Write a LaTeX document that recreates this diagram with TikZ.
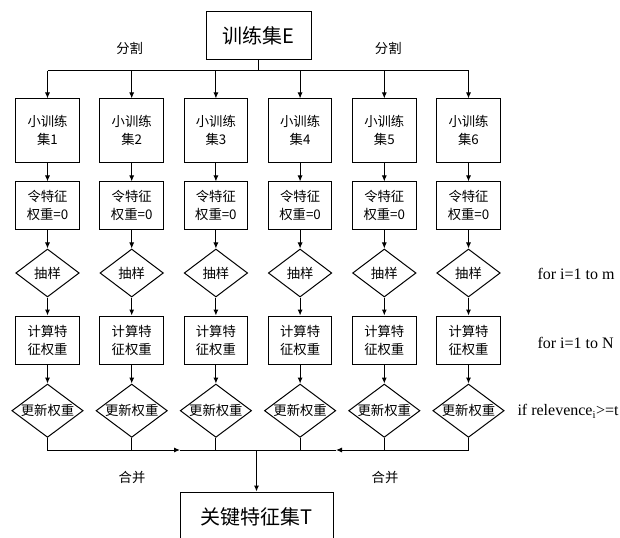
\documentclass[tikz,border=0pt]{standalone}
\usepackage{fontspec}
\setmainfont{Liberation Serif}
\newfontfamily\cjk{Noto Sans CJK SC}
\usetikzlibrary{shapes.geometric,arrows.meta}
\begin{document}
\begin{tikzpicture}[x=0.75pt,y=-0.75pt,
  line width=0.75pt,
  sbox/.style={draw,line width=0.75pt,minimum width=47.6pt,inner sep=0pt,align=center,
    font=\cjk\fontsize{10}{13.5}\selectfont},
  bigbox/.style={draw,line width=0.75pt,inner sep=0pt,align=center,font=\cjk\fontsize{15}{18}\selectfont},
  dia/.style={draw,diamond,line width=0.75pt,inner sep=0pt,align=center,font=\cjk\fontsize{10}{13.5}\selectfont},
  arr/.style={-{Latex[length=4.5pt,width=3.8pt]}},
  lbl/.style={font=\cjk\fontsize{10}{12}\selectfont,inner sep=0pt},
  side/.style={font=\fontsize{12}{14}\selectfont,inner sep=0pt,anchor=west}
]
\useasboundingbox (0,0) rectangle (620,538);
\begin{scope}
\clip (0,0) rectangle (620,538);
\node[bigbox,minimum width=78.5pt,minimum height=36pt] (top) at (258.7,35.7) {训练集E};
\node[bigbox,minimum width=114.75pt,minimum height=37pt] (bot) at (256.5,516.7) {关键特征集T};
\end{scope}

\foreach \i/\x in {1/47.5,2/131.7,3/215.9,4/300.1,5/384.3,6/468.5}{
  \node[sbox,minimum height=47.8pt] (a\i) at (\x,130.8) {小训练\\集\i};
  \node[sbox,minimum height=35.8pt] (b\i) at (\x,205.8) {令特征\\权重=0};
  \node[dia,minimum width=47.6pt,minimum height=36pt,shape aspect=1.3] (c\i) at (\x,273) {抽样};
  \node[sbox,minimum height=36pt] (d\i) at (\x,340) {计算特\\征权重};
  \node[dia,minimum width=53.5pt,minimum height=40pt,shape aspect=1.32] (e\i) at (\x,410.7) {更新权重};
  \draw[arr] (a\i) -- (b\i);
  \draw[arr] (b\i) -- (c\i);
  \draw[arr] (c\i) -- (d\i);
  \draw[arr] (d\i) -- (e\i);
}

% top split bus
\coordinate (tb) at (258.7,71);
\draw[line width=1.1pt] (top.south) -- (tb);
\draw (a1.north |- tb) -- (a6.north |- tb);
\foreach \i in {1,...,6}{
  \draw[arr] (a\i.north |- tb) -- (a\i.north);
}

% bottom merge bus
\coordinate (bl) at (47.5,450);
\coordinate (br) at (468.5,450);
\coordinate (bm) at (256.5,450);
\coordinate (ml) at (180,450);
\coordinate (mr) at (336,450);
\foreach \i in {2,...,5}{
  \draw (e\i.south) -- (e\i.south |- bl);
}
\draw[arr] (e1.south) -- (bl) -- (ml);
\draw (ml) -- (bm);
\draw[arr] (e6.south) -- (br) -- (mr);
\draw (mr) -- (bm);
\draw[arr] (bm) -- (bot.north);

% labels
\node[lbl] (s1) at (129.7,48.8) {分割};
\node[lbl] (s2) at (388.3,48.8) {分割};
\node[lbl] (m1) at (132,477.5) {合并};
\node[lbl] (m2) at (385,477.5) {合并};

\node[side] (f1) at (537,274) {for i=1 to m};
\node[side] (f2) at (537,342.5) {for i=1 to N};
\node[side] (f3) at (517,411.5) {if relevence\textsubscript{i}>=t};
\end{tikzpicture}
\end{document}
